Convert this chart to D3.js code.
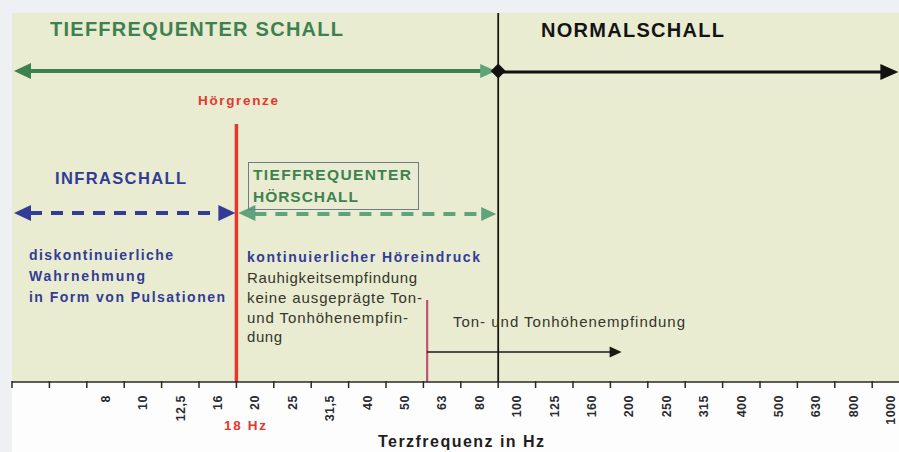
<!DOCTYPE html>
<html><head><meta charset="utf-8">
<script src="https://cdn.jsdelivr.net/npm/d3@7"></script>
<style>body{margin:0;background:#fff}svg{display:block;font-family:Arial,"Liberation Sans",sans-serif}</style>
</head><body><svg id="c" width="899" height="452"></svg>
<script>
// Third-octave band centre frequencies (first two bands are unlabelled in the original)
const bands = ["5","6,3","8","10","12,5","16","20","25","31,5","40","50","63","80","100","125","160","200","250","315","400","500","630","800","1000"];
const hiddenLabels = ["5","6,3"];
// Positions along the band axis (in band index units)
const bandPos = {start: 0, hoergrenze: 6, tonStart: 11.1, normal: 13, tonArrowEnd: 16.3, end: 23.7};
const axisTitle = "Terzfrequenz in Hz";
const limitLabel = "18 Hz";

const W = 899, H = 452;
const svg = d3.select("#c");
const padL = 12, padT = 13, axisY = 382, step = 37.4;
const x = d3.scaleBand().domain(bands).range([padL, padL + bands.length * step]).paddingInner(0).paddingOuter(0);
const xi = d3.scaleLinear().domain([0, bands.length]).range([padL, padL + bands.length * step]);

// backgrounds
svg.append("rect").attr("x",0).attr("y",0).attr("width",W).attr("height",H).attr("fill","#fdfdfd");
svg.append("rect").attr("x",0).attr("y",0).attr("width",W).attr("height",padT).attr("fill","#eef0f3");
svg.append("rect").attr("x",0).attr("y",0).attr("width",padL).attr("height",H).attr("fill","#eef0f4");
svg.append("rect").attr("x",padL).attr("y",padT).attr("width",W-padL).attr("height",axisY-padT).attr("fill","#e9ecd1");

const GREEN = "#3e8150", GREEN_L = "#5ea37a", BLUE = "#323c96", RED = "#e5372c", DARK = "#35352c", PINK = "#c4507a";

function arrowHead(tipX, tipY, dir, len, half, color) {
  const bx = tipX - dir*len;
  svg.append("path").attr("d", `M${tipX},${tipY}L${bx},${tipY-half}L${bx},${tipY+half}Z`).attr("fill", color);
}
function txt(s, px, py, o) {
  const t = svg.append("text").attr("x", px).attr("y", py).text(s)
    .attr("fill", o.color).attr("font-size", o.size).attr("font-weight", o.bold ? "bold" : "normal");
  if (o.anchor) t.attr("text-anchor", o.anchor);
  if (o.len) t.attr("textLength", o.len).attr("lengthAdjust", "spacing");
  return t;
}

// vertical lines
const xRed = xi(bandPos.hoergrenze), xBlack = xi(bandPos.normal), xPink = xi(bandPos.tonStart);
svg.append("line").attr("x1",xBlack).attr("x2",xBlack).attr("y1",padT).attr("y2",axisY).attr("stroke","#1a1a14").attr("stroke-width",1.8);
svg.append("line").attr("x1",xRed).attr("x2",xRed).attr("y1",124).attr("y2",axisY).attr("stroke",RED).attr("stroke-width",3.5);
svg.append("line").attr("x1",xPink).attr("x2",xPink).attr("y1",300).attr("y2",axisY).attr("stroke",PINK).attr("stroke-width",2.2);

// top arrows
const yTop = 71;
const xStart = xi(bandPos.start) + 2;
svg.append("line").attr("x1",xStart+14).attr("x2",xBlack-14).attr("y1",yTop).attr("y2",yTop).attr("stroke",GREEN).attr("stroke-width",4);
arrowHead(xStart, yTop, -1, 17, 8, GREEN);
arrowHead(xBlack-2, yTop, 1, 16, 7, GREEN_L);
const xEnd = xi(bandPos.end);
svg.append("line").attr("x1",xBlack).attr("x2",xEnd-14).attr("y1",yTop+1).attr("y2",yTop+1).attr("stroke","#111").attr("stroke-width",3.2);
arrowHead(xEnd, yTop+1, 1, 18, 8, "#111");
svg.append("path").attr("d",`M${xBlack},${yTop-7.5}L${xBlack+7.5},${yTop}L${xBlack},${yTop+7.5}L${xBlack-7.5},${yTop}Z`).attr("fill","#111");

// dashed arrows
const yD = 213;
svg.append("line").attr("x1",xStart+16).attr("x2",xRed-17).attr("y1",yD).attr("y2",yD).attr("stroke",BLUE).attr("stroke-width",4).attr("stroke-dasharray","12,9");
arrowHead(xStart, yD, -1, 17, 8, BLUE);
arrowHead(xRed-1, yD, 1, 17, 8, BLUE);
svg.append("line").attr("x1",xRed+18).attr("x2",xBlack-15).attr("y1",yD+1).attr("y2",yD+1).attr("stroke",GREEN_L).attr("stroke-width",4).attr("stroke-dasharray","12,9");
arrowHead(xRed+2, yD, -1, 17, 8, GREEN_L);
arrowHead(xBlack-2, yD+1, 1, 15, 7, GREEN_L);

// Ton- und Tonhöhenempfindung arrow
const yT = 352, xTe = xi(bandPos.tonArrowEnd);
svg.append("line").attr("x1",xPink).attr("x2",xTe-10).attr("y1",yT).attr("y2",yT).attr("stroke","#1a1a14").attr("stroke-width",1.6);
arrowHead(xTe, yT, 1, 12, 5.5, "#1a1a14");

// box
svg.append("rect").attr("x",248.5).attr("y",162.5).attr("width",170).attr("height",47).attr("fill","none").attr("stroke","#6e7c90").attr("stroke-width",1);

// texts
txt("TIEFFREQUENTER SCHALL", 50, 36, {color:GREEN, size:20, bold:true, len:293});
txt("NORMALSCHALL", 541, 37, {color:"#141414", size:20, bold:true, len:183});
txt("Hörgrenze", 198, 105, {color:RED, size:13.5, bold:true, len:80});
txt("INFRASCHALL", 55, 184, {color:BLUE, size:16.5, bold:true, len:131});
txt("TIEFFREQUENTER", 253, 180, {color:GREEN, size:15.5, bold:true, len:158});
txt("HÖRSCHALL", 253, 202, {color:GREEN, size:15.5, bold:true, len:105});
txt("diskontinuierliche", 29, 260, {color:BLUE, size:14, bold:true, len:144});
txt("Wahrnehmung", 29, 281, {color:BLUE, size:14, bold:true, len:116});
txt("in Form von Pulsationen", 29, 302, {color:BLUE, size:14, bold:true, len:196});
txt("kontinuierlicher Höreindruck", 247, 262, {color:BLUE, size:14, bold:true, len:233});
txt("Rauhigkeitsempfindung", 247, 283, {color:DARK, size:15, len:170});
txt("keine ausgeprägte Ton-", 247, 303, {color:DARK, size:15, len:175});
txt("und Tonhöhenempfin-", 247, 323, {color:DARK, size:15, len:161});
txt("dung", 247, 342, {color:DARK, size:15, len:35});
txt("Ton- und Tonhöhenempfindung", 453, 327, {color:DARK, size:15, len:232});

// axis
svg.append("line").attr("x1",padL).attr("x2",W).attr("y1",axisY).attr("y2",axisY).attr("stroke","#2a2a22").attr("stroke-width",1.6);
svg.append("g").selectAll("line").data(bands).join("line")
  .attr("x1", d => x(d)).attr("x2", d => x(d)).attr("y1", axisY-1).attr("y2", axisY+6)
  .attr("stroke","#2a2a22").attr("stroke-width",1.5);
svg.append("g").selectAll("text").data(bands.filter(b => !hiddenLabels.includes(b))).join("text")
  .attr("transform", d => `translate(${x(d) + x.bandwidth()/2},395) rotate(-90)`)
  .attr("dy","0.35em").attr("text-anchor","end")
  .attr("font-size",12.5).attr("font-weight","bold").attr("letter-spacing",0.5).attr("fill","#2a2a30")
  .text(d => d);
txt(limitLabel, 245, 430, {color:RED, size:13.5, bold:true, anchor:"middle", len:42});
txt(axisTitle, 378, 447, {color:"#1e1e22", size:16, bold:true, len:166});
</script></body></html>
